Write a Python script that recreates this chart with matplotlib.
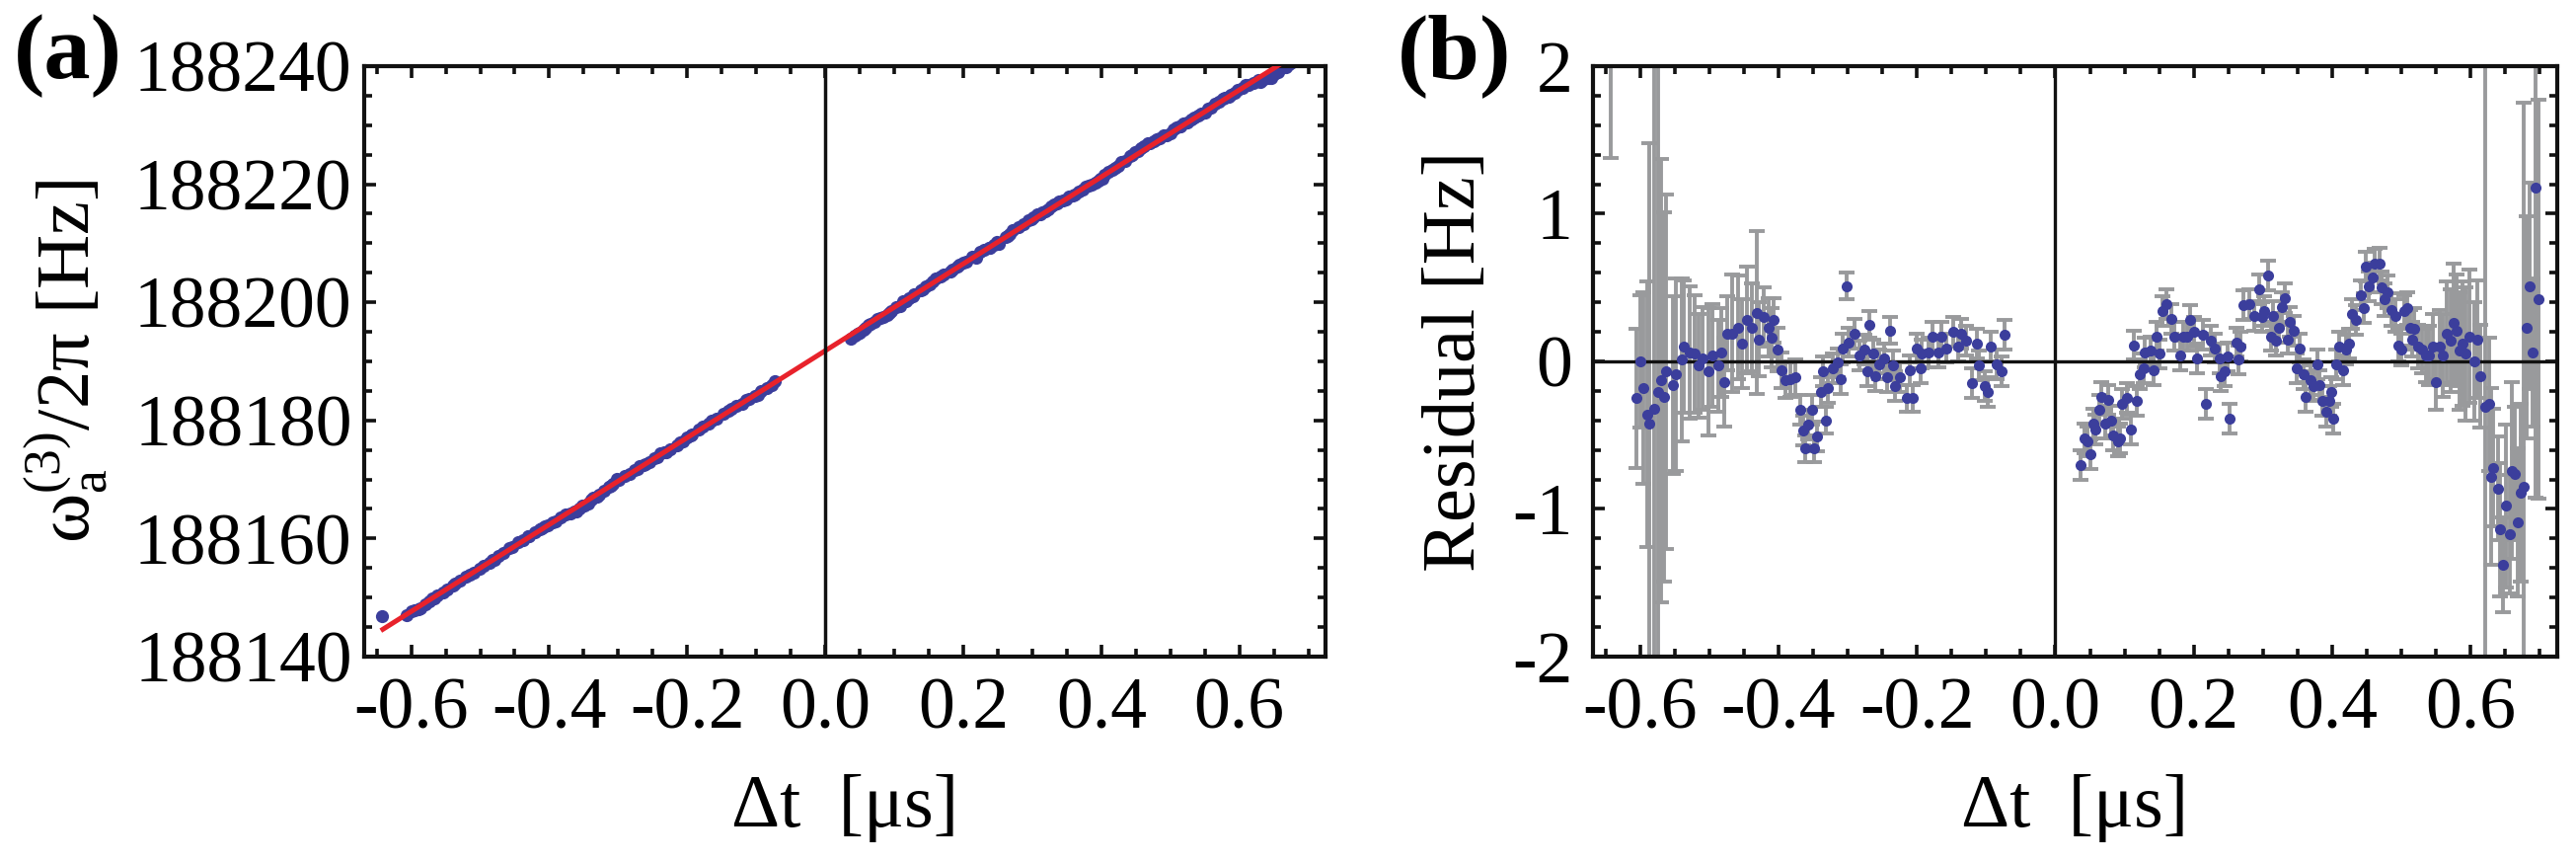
import matplotlib
matplotlib.use("Agg")
import matplotlib.pyplot as plt
from matplotlib.ticker import MultipleLocator, FixedLocator, FixedFormatter
import numpy as np

# ===============================
# DATA
# ===============================

# residuals, negative delay branch
t_neg = [-0.643, -0.606, -0.599, -0.595, -0.590, -0.587, -0.580, -0.574, -0.569, -0.566,
         -0.562, -0.553, -0.548, -0.540, -0.537, -0.529, -0.521, -0.515, -0.510, -0.501,
         -0.495, -0.487, -0.482, -0.479, -0.474, -0.467, -0.458, -0.453, -0.445, -0.438,
         -0.431, -0.429, -0.421, -0.414, -0.410, -0.407, -0.402, -0.395, -0.390, -0.383,
         -0.376, -0.369, -0.364, -0.361, -0.357, -0.352, -0.349, -0.344, -0.339, -0.336,
         -0.331, -0.328, -0.321, -0.314, -0.310, -0.307, -0.302, -0.299, -0.290, -0.283,
         -0.276, -0.272, -0.269, -0.263, -0.260, -0.255, -0.248, -0.243, -0.239, -0.234,
         -0.231, -0.225, -0.215, -0.210, -0.206, -0.201, -0.195, -0.193, -0.183, -0.177,
         -0.169, -0.164, -0.158, -0.148, -0.140, -0.136, -0.129, -0.121, -0.114, -0.110,
         -0.102, -0.098, -0.093, -0.085, -0.078, -0.073]
r_neg = [2.30, -0.25, 0.00, -0.18, -0.36, -0.42, -0.32, -0.21, -0.13, -0.24,
         -0.07, -0.16, -0.09, 0.01, 0.10, 0.06, 0.05, -0.03, 0.02, -0.07,
         0.04, -0.03, 0.06, -0.14, 0.19, 0.19, 0.23, 0.12, 0.28, 0.23,
         0.33, 0.15, 0.30, 0.23, 0.16, 0.28, 0.08, -0.06, -0.13, -0.12,
         -0.11, -0.33, -0.47, -0.59, -0.43, -0.33, -0.59, -0.51, -0.21, -0.07,
         -0.40, -0.18, -0.05, -0.01, -0.12, 0.09, 0.51, 0.13, 0.19, 0.04,
         0.08, -0.07, 0.25, 0.05, -0.10, -0.02, 0.02, -0.11, 0.21, -0.03,
         -0.17, -0.11, -0.25, -0.06, -0.25, 0.09, -0.05, 0.05, 0.06, 0.17,
         0.06, 0.17, 0.09, 0.20, 0.10, 0.19, 0.14, -0.15, 0.12, -0.03,
         -0.17, -0.21, 0.10, -0.02, -0.07, 0.18]
e_neg = [0.92, 0.47, 0.45, 0.65, 0.90, 1.90, 2.60, 2.50, 1.50, 1.25,
         1.20, 0.60, 0.65, 0.55, 0.45, 0.45, 0.40, 0.35, 0.35, 0.43,
         0.35, 0.31, 0.30, 0.30, 0.25, 0.40, 0.35, 0.30, 0.36, 0.30,
         0.55, 0.25, 0.20, 0.20, 0.20, 0.15, 0.15, 0.12, 0.12, 0.12,
         0.12, 0.10, 0.10, 0.09, 0.10, 0.10, 0.09, 0.10, 0.10, 0.10,
         0.09, 0.10, 0.10, 0.10, 0.10, 0.10, 0.09, 0.10, 0.10, 0.10,
         0.10, 0.10, 0.09, 0.10, 0.10, 0.10, 0.10, 0.10, 0.09, 0.10,
         0.10, 0.10, 0.09, 0.10, 0.09, 0.10, 0.10, 0.10, 0.10, 0.10,
         0.10, 0.10, 0.10, 0.10, 0.10, 0.10, 0.10, 0.10, 0.10, 0.10,
         0.10, 0.10, 0.10, 0.10, 0.10, 0.10]

# residuals, positive delay branch
t_pos = [0.037, 0.042, 0.047, 0.050, 0.055, 0.058, 0.063, 0.066, 0.072, 0.076,
         0.080, 0.084, 0.090, 0.093, 0.096, 0.103, 0.109, 0.113, 0.117, 0.122,
         0.127, 0.129, 0.138, 0.142, 0.146, 0.151, 0.155, 0.160, 0.167, 0.172,
         0.181, 0.184, 0.191, 0.194, 0.200, 0.205, 0.213, 0.218, 0.225, 0.230,
         0.237, 0.239, 0.244, 0.249, 0.252, 0.261, 0.265, 0.267, 0.272, 0.280,
         0.287, 0.294, 0.299, 0.302, 0.307, 0.311, 0.315, 0.319, 0.323, 0.327,
         0.331, 0.336, 0.339, 0.344, 0.349, 0.353, 0.359, 0.362, 0.368, 0.373,
         0.378, 0.382, 0.386, 0.391, 0.396, 0.399, 0.402, 0.405, 0.410, 0.416,
         0.420, 0.424, 0.429, 0.434, 0.441, 0.445, 0.449, 0.453, 0.458, 0.461,
         0.468, 0.471, 0.476, 0.480, 0.485, 0.491, 0.495, 0.500, 0.504, 0.509,
         0.513, 0.515, 0.519, 0.524, 0.530, 0.535, 0.540, 0.545, 0.550, 0.555,
         0.559, 0.565, 0.571, 0.576, 0.579, 0.584, 0.588, 0.593, 0.598, 0.605,
         0.609, 0.614, 0.621, 0.627, 0.630, 0.633, 0.640, 0.643, 0.646, 0.651,
         0.656, 0.660, 0.664, 0.668, 0.672, 0.676, 0.681, 0.685, 0.689, 0.693, 0.698]
r_pos = [-0.70, -0.52, -0.54, -0.63, -0.42, -0.46, -0.33, -0.24, -0.42, -0.26,
         -0.40, -0.50, -0.54, -0.52, -0.29, -0.25, -0.46, 0.11, -0.27, -0.09,
         -0.05, 0.06, 0.07, -0.06, 0.17, 0.05, 0.34, 0.39, 0.29, 0.17,
         0.04, 0.17, 0.17, 0.28, 0.20, 0.02, 0.18, -0.29, 0.14, 0.09,
         0.02, -0.10, -0.07, 0.03, -0.39, 0.13, 0.01, 0.10, 0.38, 0.39,
         0.31, 0.49, 0.30, 0.34, 0.58, 0.17, 0.31, 0.14, 0.23, 0.37,
         0.43, 0.15, 0.27, 0.21, -0.05, 0.09, -0.09, -0.24, -0.13, -0.17,
         -0.02, -0.16, -0.27, -0.34, -0.27, -0.21, -0.39, -0.02, 0.10, -0.06,
         0.08, 0.12, 0.32, 0.28, 0.45, 0.36, 0.64, 0.51, 0.57, 0.66,
         0.66, 0.50, 0.42, 0.47, 0.35, 0.31, 0.11, 0.08, 0.34, 0.36,
         0.23, 0.15, 0.22, 0.10, 0.08, 0.04, 0.04, 0.10, -0.14, 0.10,
         0.04, 0.19, 0.14, 0.26, 0.21, 0.07, 0.12, 0.05, 0.17, 0.00,
         0.15, -0.10, -0.31, -0.29, -0.78, -0.72, -0.86, -1.14, -1.38, -0.98,
         -1.17, -0.74, -0.76, -1.09, -0.89, -0.85, 0.23, 0.51, 0.06, 1.18, 0.42]
e_pos = [0.10] * 90 + [0.11] * 10 + [
         0.12, 0.12, 0.14, 0.15, 0.16, 0.18, 0.20, 0.22, 0.19, 0.25,
         0.28, 0.35, 0.35, 0.40, 0.38, 0.40, 0.42, 0.45, 0.45, 0.40,
         0.40, 0.35, 2.50, 0.45, 0.60, 0.40, 0.35, 0.45, 0.32, 0.55,
         0.40, 0.60, 0.45, 0.50, 0.60, 2.60, 0.75, 0.70, 0.50, 2.10, 1.35]

# linear fit of panel (a): intercept at dt = 0 and slope [Hz/us]
fit_intercept = 188191.8
fit_slope = 73.6
fit_t = [-0.641, 0.70]

# ticks
x_ticks = [-0.6, -0.4, -0.2, 0.0, 0.2, 0.4, 0.6]
x_labels = ["-0.6", "-0.4", "-0.2", "0.0", "0.2", "0.4", "0.6"]
ya_ticks = [188140, 188160, 188180, 188200, 188220, 188240]
ya_labels = ["188140", "188160", "188180", "188200", "188220", "188240"]
yb_ticks = [-2, -1, 0, 1, 2]
yb_labels = ["-2", "-1", "0", "1", "2"]

# ===============================
# STYLE
# ===============================

plt.rcParams["font.family"] = ["Liberation Serif", "DejaVu Serif"]
plt.rcParams["mathtext.fontset"] = "custom"
plt.rcParams["mathtext.rm"] = "Liberation Serif"
plt.rcParams["mathtext.it"] = "Liberation Serif:italic"
plt.rcParams["axes.unicode_minus"] = False

BLUE = "#3b3e9c"
RED = "#e8222b"
GRAY = "#999a9c"
INK = "#111111"
FS = 53


def style_axes(ax, ylabel_pad):
    for sp in ax.spines.values():
        sp.set_linewidth(3.0)
        sp.set_color(INK)
    ax.tick_params(which="both", direction="in", top=True, right=True,
                   width=2.6, color=INK, labelsize=FS)
    ax.tick_params(which="major", length=8.5)
    ax.tick_params(which="minor", length=5.5)
    ax.tick_params(axis="x", pad=15)
    ax.tick_params(axis="y", pad=ylabel_pad)
    ax.xaxis.set_major_locator(FixedLocator(x_ticks))
    ax.xaxis.set_major_formatter(FixedFormatter(x_labels))
    ax.xaxis.set_minor_locator(MultipleLocator(0.05))
    ax.set_xlim(-0.668, 0.725)


fig = plt.figure(figsize=(26.1, 8.73), dpi=100)
ax_a = fig.add_axes([0.1414, 0.2383, 0.3732, 0.6850])
ax_b = fig.add_axes([0.6184, 0.2383, 0.3743, 0.6850])

# ===============================
# PANEL (a)
# ===============================

t_all = np.array(t_neg + t_pos)
r_all = np.array(r_neg + r_pos)
freq = fit_intercept + fit_slope * t_all + r_all
fit_x = np.array(fit_t)
n_neg = len(t_neg)

ax_a.plot(t_all[:n_neg], freq[:n_neg], "o", color=BLUE, ms=9.5, mew=0, zorder=2)
ax_a.plot(t_all[n_neg:], freq[n_neg:], "o", color=BLUE, ms=9.5, mew=0, zorder=2)
ax_a.plot(fit_x, fit_intercept + fit_slope * fit_x, color=RED, lw=3.6, zorder=3)
ax_a.axvline(0, color=INK, lw=2.5, zorder=4)

style_axes(ax_a, 9)
ax_a.set_ylim(188140, 188240)
ax_a.yaxis.set_major_locator(FixedLocator(ya_ticks))
ax_a.yaxis.set_major_formatter(FixedFormatter(ya_labels))
ax_a.yaxis.set_minor_locator(MultipleLocator(5))

# ===============================
# PANEL (b)
# ===============================

for t, r, e in [(t_neg, r_neg, e_neg), (t_pos, r_pos, e_pos)]:
    ax_b.errorbar(t, r, yerr=e, fmt="none", ecolor=GRAY, elinewidth=2.8,
                  capsize=5.5, capthick=2.8, zorder=2)
    ax_b.plot(t, r, "o", color=BLUE, ms=8, mew=0, zorder=4)
ax_b.axhline(0, color=INK, lw=2.4, zorder=3)
ax_b.axvline(0, color=INK, lw=2.4, zorder=3)

style_axes(ax_b, 15)
ax_b.set_ylim(-2, 2)
ax_b.yaxis.set_major_locator(FixedLocator(yb_ticks))
ax_b.yaxis.set_major_formatter(FixedFormatter(yb_labels))
ax_b.yaxis.set_minor_locator(MultipleLocator(0.2))

# ===============================
# LABELS
# ===============================

fig.text(67 / 2610, 0.5808, r"$\mathrm{\omega_a^{(3)}/2\pi}$ [Hz]", rotation=90,
         ha="center", va="center", fontsize=FS + 2)
fig.text(1475 / 2610, 0.5808, "Residual [Hz]", rotation=90,
         ha="center", va="center", fontsize=FS + 2)
fig.text(856 / 2610, 0.062, "Δt  [μs]", ha="center", va="center", fontsize=FS + 2)
fig.text(2102 / 2610, 0.062, "Δt  [μs]", ha="center", va="center", fontsize=FS + 2)
fig.text(14 / 2610, 1 - 14 / 873, "(a)", ha="left", va="top",
         fontsize=68, fontweight="bold")
fig.text(1416 / 2610, 1 - 14 / 873, "(b)", ha="left", va="top",
         fontsize=68, fontweight="bold")

fig.savefig("out.png", dpi=100)
